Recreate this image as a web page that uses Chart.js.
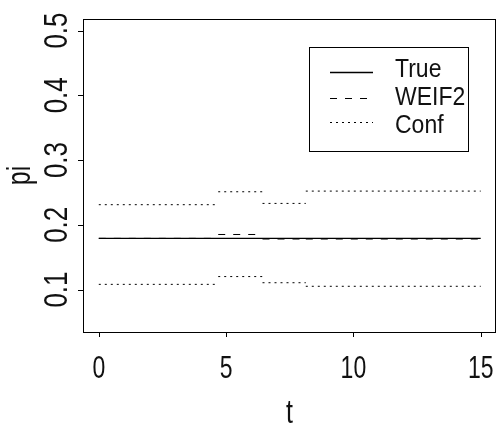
<!DOCTYPE html>
<html>
<head>
<meta charset="utf-8">
<script src="https://cdn.jsdelivr.net/npm/chart.js@4/dist/chart.umd.min.js"></script>
<style>
  html, body { margin: 0; padding: 0; background: #ffffff; }
  #c { display: block; }
</style>
</head>
<body>
<canvas id="c" width="498" height="432"></canvas>
<script>
// ---- data ----
const tBreaks    = [0, 4.69, 6.43, 8.13, 15];   // change points of the step estimates
const trueValue  = [0.179, 0.179];               // true pi (constant)
const trueT      = [0, 15];
const weif2      = [0.179, 0.185, 0.178, 0.178];
const confUpper  = [0.231, 0.251, 0.233, 0.252];
const confLower  = [0.108, 0.120, 0.1105, 0.105];
const xTicks     = [0, 5, 10, 15];
const yTicks     = [0.1, 0.2, 0.3, 0.4, 0.5];
const xTickLabels = ['0', '5', '10', '15'];
const yTickLabels = ['0.1', '0.2', '0.3', '0.4', '0.5'];
const legendLabels = ['True', 'WEIF2', 'Conf'];

// horizontal segments without vertical connectors
function segments(breaks, vals) {
  const out = [];
  for (let i = 0; i < vals.length; i++) {
    out.push({x: breaks[i], y: vals[i]});
    out.push({x: breaks[i + 1], y: vals[i]});
    out.push({x: breaks[i + 1], y: null});
  }
  return out;
}

const DASH = [7, 8];
const DOT = [2, 4];

function stretchText(ctx, text, x, y, size, s, rotate, align) {
  ctx.save();
  ctx.translate(x, y);
  if (rotate) ctx.rotate(-Math.PI / 2);
  ctx.scale(1, s);
  ctx.font = size + 'px "Liberation Sans", Arial, sans-serif';
  ctx.textAlign = align || 'center';
  ctx.textBaseline = 'alphabetic';
  ctx.fillStyle = '#111';
  ctx.fillText(text, 0, 0);
  ctx.restore();
}

const framePlugin = {
  id: 'frame',
  afterDraw(chart) {
    const ctx = chart.ctx;
    const a = chart.chartArea;
    const xs = chart.scales.x, ys = chart.scales.y;
    ctx.save();
    ctx.strokeStyle = '#000';
    ctx.lineWidth = 1;
    ctx.setLineDash([]);
    // box
    ctx.strokeRect(Math.round(a.left) + 0.5, Math.round(a.top) + 0.5,
                   Math.round(a.right - a.left) - 1, Math.round(a.bottom - a.top));
    // x ticks
    xTicks.forEach((v, i) => {
      const px = Math.round(xs.getPixelForValue(v)) + 0.5;
      ctx.beginPath();
      ctx.moveTo(px, a.bottom);
      ctx.lineTo(px, a.bottom + 5);
      ctx.stroke();
      stretchText(ctx, xTickLabels[i], xs.getPixelForValue(v), 378, 23, 1.4, false);
    });
    // y ticks
    yTicks.forEach((v, i) => {
      const py = Math.round(ys.getPixelForValue(v)) + 0.5;
      ctx.beginPath();
      ctx.moveTo(a.left, py);
      ctx.lineTo(a.left - 5, py);
      ctx.stroke();
      stretchText(ctx, yTickLabels[i], 67, ys.getPixelForValue(v), 26, 1.3, true);
    });
    // axis titles
    stretchText(ctx, 't', (a.left + a.right) / 2, 423, 25, 1.3, false);
    stretchText(ctx, 'pi', 30, (a.top + a.bottom) / 2, 25, 1.3, true);

    // legend
    const bx = 309, by = 47, bw = 159, bh = 104;
    ctx.strokeRect(bx + 0.5, by + 0.5, bw, bh);
    const rows = [71.5, 98, 122];
    const base = [76.7, 105, 133.3];
    const dsIdx = [0, 1, 2];
    rows.forEach((ry, i) => {
      const ds = chart.data.datasets[dsIdx[i]];
      ctx.beginPath();
      ctx.setLineDash(ds.borderDash || []);
      ctx.lineWidth = ds.borderWidth;
      ctx.moveTo(330, Math.round(ry) + 0.5);
      ctx.lineTo(373, Math.round(ry) + 0.5);
      ctx.stroke();
      ctx.setLineDash([]);
      stretchText(ctx, legendLabels[i], 395, base[i], 23, 1.15, false, 'left');
    });
    ctx.restore();
  }
};

new Chart(document.getElementById('c'), {
  type: 'line',
  data: {
    datasets: [
      { label: legendLabels[0], data: trueT.map((t, i) => ({x: t, y: trueValue[i]})),
        borderColor: '#000', borderWidth: 1.3, pointRadius: 0, fill: false },
      { label: legendLabels[1], data: segments(tBreaks, weif2),
        borderColor: '#000', borderWidth: 1, borderDash: DASH, pointRadius: 0, fill: false, spanGaps: false },
      { label: legendLabels[2], data: segments(tBreaks, confUpper),
        borderColor: '#000', borderWidth: 1, borderDash: DOT, pointRadius: 0, fill: false, spanGaps: false },
      { label: legendLabels[2] + ' (lower)', data: segments(tBreaks, confLower),
        borderColor: '#000', borderWidth: 1, borderDash: DOT, pointRadius: 0, fill: false, spanGaps: false }
    ]
  },
  options: {
    responsive: false,
    devicePixelRatio: 1,
    animation: false,
    layout: { padding: { left: 83, right: 2, top: 19, bottom: 100 } },
    scales: {
      x: { type: 'linear', min: -0.62, max: 15.6, display: false },
      y: { type: 'linear', min: 0.0344, max: 0.5178, display: false }
    },
    plugins: {
      legend: { display: false },
      tooltip: { enabled: false }
    }
  },
  plugins: [framePlugin]
});
</script>
</body>
</html>
